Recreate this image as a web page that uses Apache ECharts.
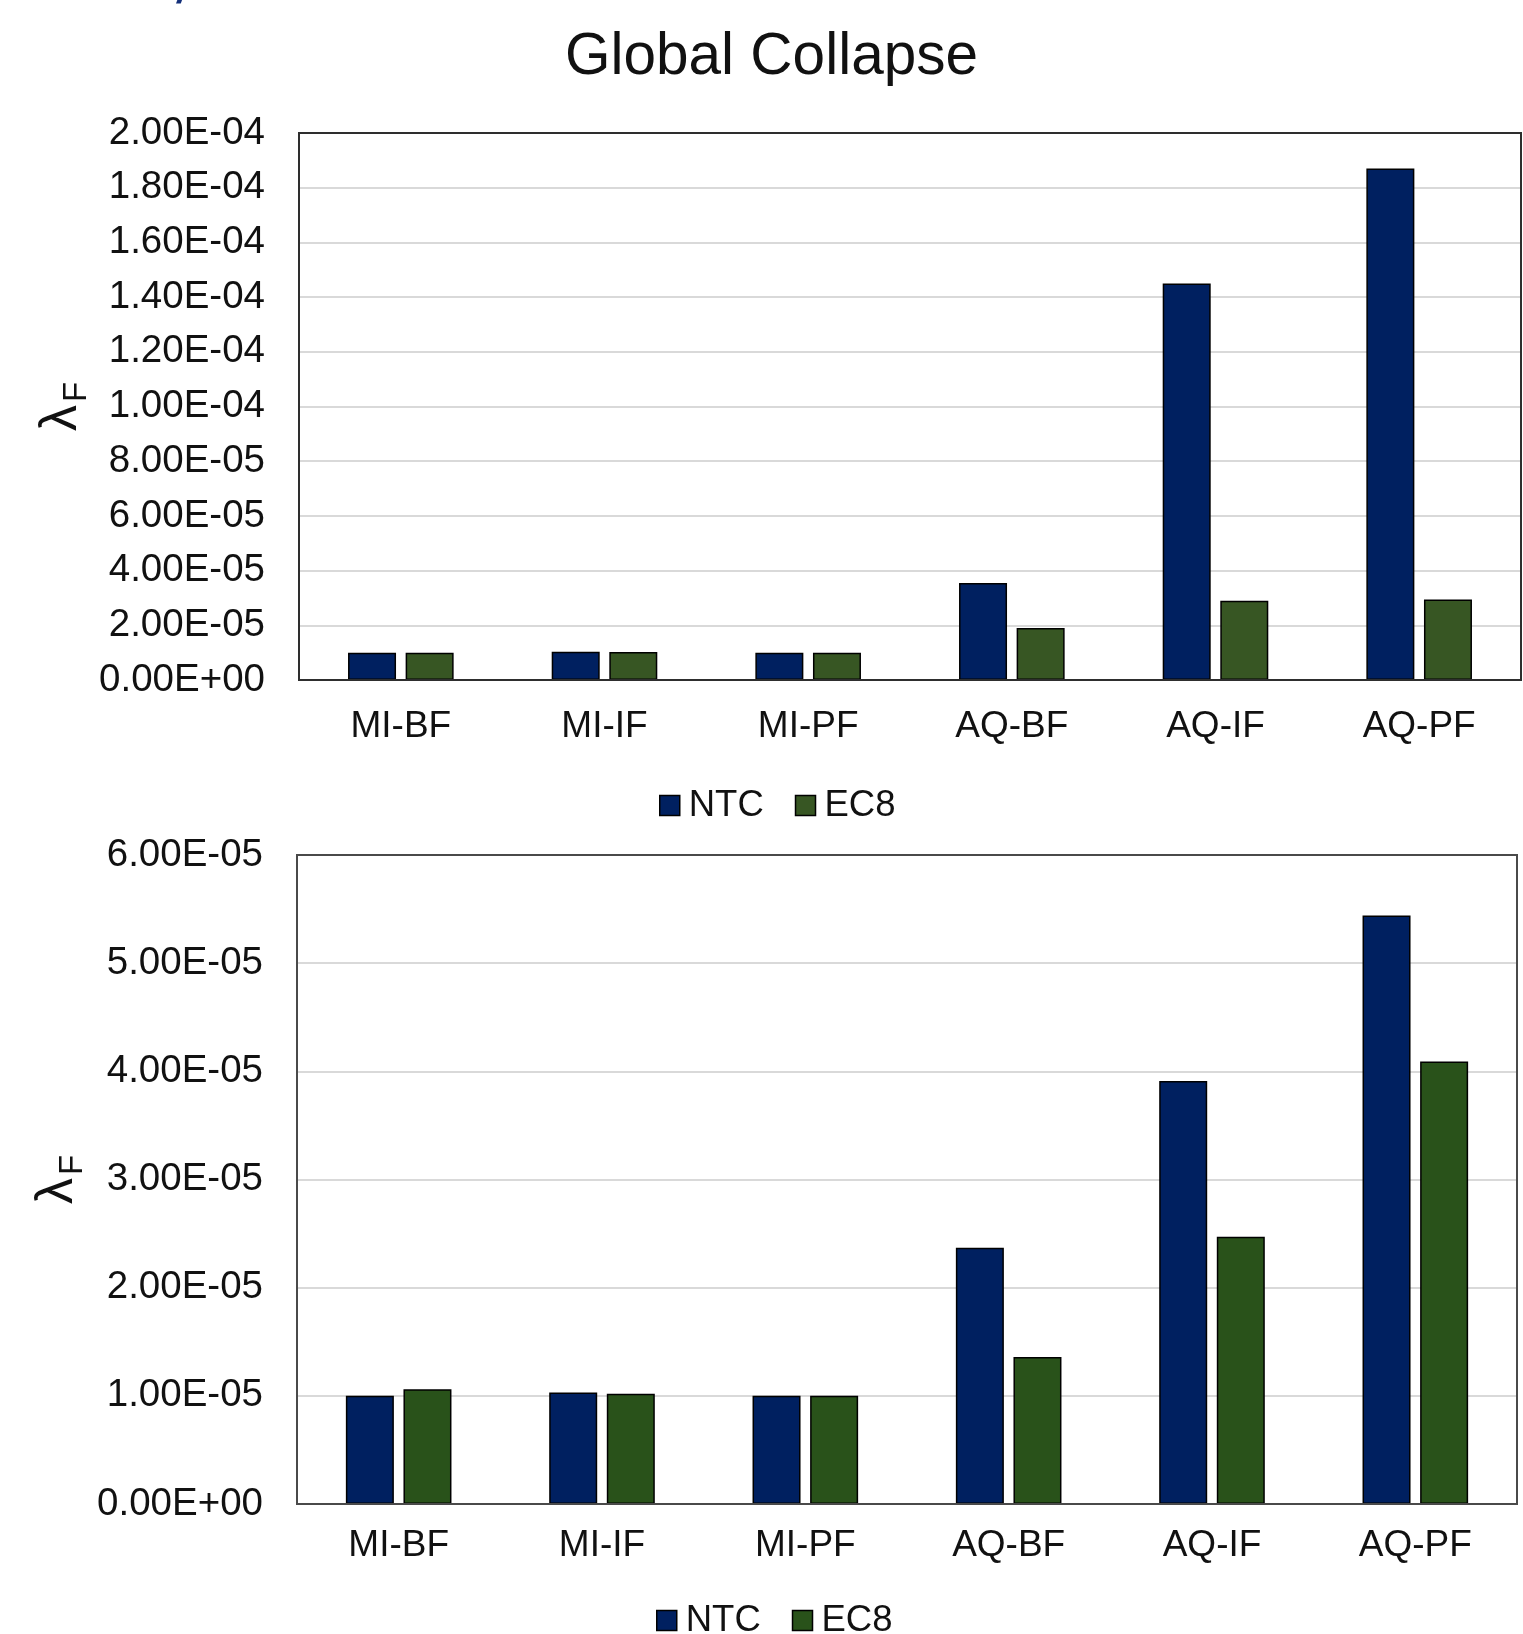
<!DOCTYPE html>
<html>
<head>
<meta charset="utf-8">
<title>Global Collapse</title>
<script src="https://cdn.jsdelivr.net/npm/echarts@6/dist/echarts.min.js"></script>
<style>
  html, body { margin: 0; padding: 0; background: #fff; }
  #chart { width: 1523px; height: 1634px; }
</style>
</head>
<body>
<div id="chart"></div>
<script>
// Building typologies on the category axis
const categories = ['MI-BF', 'MI-IF', 'MI-PF', 'AQ-BF', 'AQ-IF', 'AQ-PF'];
const seriesNames = ['NTC', 'EC8'];

// Upper panel: mean annual frequency of global collapse
const topNTC = [1.0e-5, 1.03e-5, 1.0e-5, 3.55e-5, 1.45e-4, 1.87e-4];
const topEC8 = [1.0e-5, 1.02e-5, 1.0e-5, 1.9e-5, 2.9e-5, 2.94e-5];

// Lower panel
const botNTC = [1.0e-5, 1.03e-5, 1.0e-5, 2.37e-5, 3.91e-5, 5.44e-5];
const botEC8 = [1.06e-5, 1.02e-5, 1.0e-5, 1.36e-5, 2.47e-5, 4.09e-5];

// Value-axis ranges
const topAxis = { min: 0, max: 2.0e-4, interval: 2.0e-5 };
const botAxis = { min: 0, max: 6.0e-5, interval: 1.0e-5 };

const NTC_COLOR = '#002060';
const EC8_TOP_COLOR = '#375623';
const EC8_BOT_COLOR = '#29521a';
const FONT = "'Liberation Sans', Arial, sans-serif";
const TEXT = '#111';
const FRAME = '#2e2e2e';

// 2.00E-04 style scientific labels
function sci(v) {
  const [m, e] = Number(v).toExponential(2).split('e');
  const sign = e[0] === '-' ? '-' : '+';
  const digits = e.replace(/[+-]/, '').padStart(2, '0');
  return m + 'E' + sign + digits;
}

const chart = echarts.init(document.getElementById('chart'), null, { renderer: 'canvas' });

function xAxisFor(gridIndex, margin) {
  return {
    type: 'category',
    gridIndex,
    data: categories,
    axisLine: { show: true, lineStyle: { color: FRAME, width: 2 } },
    axisTick: { show: false },
    axisLabel: { color: TEXT, fontSize: 37, fontFamily: FONT, margin }
  };
}

function yAxisFor(gridIndex, range) {
  return {
    type: 'value',
    gridIndex,
    min: range.min,
    max: range.max,
    interval: range.interval,
    axisLine: { show: true, lineStyle: { color: FRAME, width: 2 } },
    axisTick: { show: false },
    splitLine: { show: true, showMinLine: false, showMaxLine: false, lineStyle: { color: '#d9d9d9', width: 2 } },
    axisLabel: { color: TEXT, fontSize: 38.5, fontFamily: FONT, margin: 34, formatter: sci }
  };
}

function barSeries(name, axisIndex, data, color) {
  return {
    name,
    type: 'bar',
    xAxisIndex: axisIndex,
    yAxisIndex: axisIndex,
    data,
    barWidth: 48,
    barGap: '20%',
    itemStyle: { color, borderColor: '#000', borderWidth: 1.5 },
    emphasis: { disabled: true }
  };
}

// Rotated lambda_F axis name
function lambdaLabel(cx, cy) {
  return {
    type: 'group',
    x: cx,
    y: cy,
    rotation: Math.PI / 2,
    children: [
      { type: 'text', x: -12, y: 0, style: { text: 'λ', font: '52px ' + FONT, fill: TEXT, align: 'center', verticalAlign: 'middle' } },
      { type: 'text', x: 14, y: 15, style: { text: 'F', font: '33px ' + FONT, fill: TEXT, align: 'center', verticalAlign: 'middle' } }
    ]
  };
}

function legendAt(left, top, ec8Color) {
  return {
    left,
    top,
    orient: 'horizontal',
    itemWidth: 20,
    itemHeight: 20,
    itemGap: 31,
    icon: 'rect',
    selectedMode: false,
    textStyle: { color: TEXT, fontSize: 36.5, fontFamily: FONT, padding: [0, 0, 0, 4] },
    data: [
      { name: 'NTC', itemStyle: { color: NTC_COLOR, borderColor: '#000', borderWidth: 1.5 } },
      { name: 'EC8', itemStyle: { color: ec8Color, borderColor: '#000', borderWidth: 1.5 } }
    ]
  };
}

chart.setOption({
  backgroundColor: '#fff',
  animation: false,
  title: {
    text: 'Global Collapse',
    left: 560,
    top: 23,
    textStyle: { color: TEXT, fontSize: 58.5, fontWeight: 'normal', fontFamily: FONT }
  },
  legend: [legendAt(654, 782, EC8_TOP_COLOR), legendAt(651, 1597, EC8_BOT_COLOR)],
  grid: [
    { left: 299, top: 133, width: 1222, height: 547, show: true, borderColor: FRAME, borderWidth: 2, containLabel: false, z: 5 },
    { left: 297, top: 855, width: 1220, height: 649, show: true, borderColor: '#4a4a4a', borderWidth: 2, containLabel: false, z: 5 }
  ],
  xAxis: [xAxisFor(0, 28), xAxisFor(1, 23)],
  yAxis: [yAxisFor(0, topAxis), yAxisFor(1, botAxis)],
  series: [
    barSeries('NTC', 0, topNTC, NTC_COLOR),
    barSeries('EC8', 0, topEC8, EC8_TOP_COLOR),
    barSeries('NTC', 1, botNTC, NTC_COLOR),
    barSeries('EC8', 1, botEC8, EC8_BOT_COLOR)
  ],
  graphic: [
    lambdaLabel(62, 406),
    lambdaLabel(58, 1179),
    // clipped heading glyph at the very top edge
    { type: 'text', x: 183, y: 12, style: { text: '/', font: 'bold italic 40px ' + FONT, fill: '#14307a', align: 'center', verticalAlign: 'bottom' } }
  ]
});
</script>
</body>
</html>
